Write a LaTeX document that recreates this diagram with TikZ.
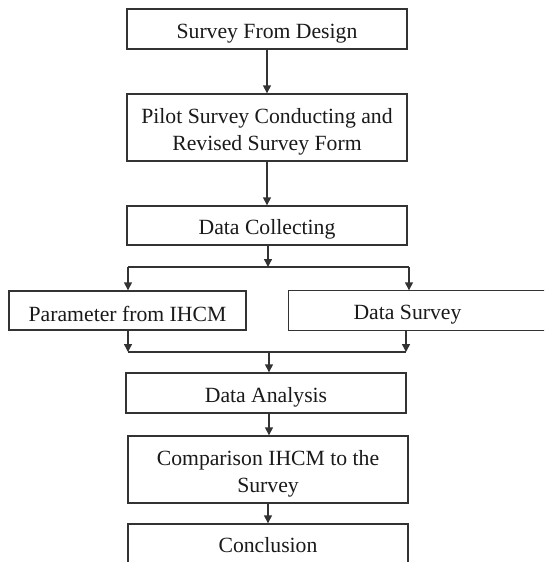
\documentclass[tikz,border=0pt]{standalone}
\usepackage{fontspec}
\setmainfont{Liberation Serif}
\usetikzlibrary{arrows.meta}
\definecolor{linec}{HTML}{333333}
\definecolor{textc}{HTML}{1A1A1A}
\newcommand{\topstrut}{\rule{0pt}{23pt}}
\tikzset{
  box/.style={draw=linec, line width=1.4pt, rectangle, inner sep=0pt, text=textc,
    font=\fontsize{21.7}{26.7}\selectfont, align=center, minimum width=280pt},
  conn/.style={draw=linec, line width=1.4pt},
  arr/.style={conn, -{Triangle[length=8pt,width=8pt]}}
}
\begin{document}
\begin{tikzpicture}[x=1pt,y=-1pt]
\useasboundingbox (0,0) rectangle (544,562);
\fill[white] (0,0) rectangle (544,562);
\clip (0,0) rectangle (544,562);
\node[box, minimum height=40pt] (b1) at (267,29) {\topstrut Survey From Design};
\node[box, minimum height=67pt] (b2) at (267,127.5) {\topstrut Pilot Survey Conducting and\\Revised Survey Form};
\node[box, minimum height=39pt] (b3) at (267,225.5) {\topstrut Data Collecting};
\node[box, minimum height=39pt, minimum width=237pt] (b4) at (127.5,310.5) {\topstrut Parameter from IHCM};
\node[box, draw=none, minimum height=39pt, minimum width=237pt] (b5) at (407.5,310.5) {\topstrut Data Survey};
\draw[conn] (b5.north west) -- ++(300,0) (b5.north west) -- (b5.south west) -- ++(300,0);
\node[box, minimum height=40pt] (b6) at (266,393) {\topstrut Data Analysis};
\node[box, minimum height=67pt] (b7) at (268,469.5) {\topstrut Comparison IHCM to the\\Survey};
\node[box, minimum height=42pt, text depth=0pt] (b8) at (268,545) {Conclusion};

\coordinate (s1) at (128,267);
\coordinate (s2) at (409,267);
\coordinate (j1) at (268,267);
\coordinate (m1) at (128,352);
\coordinate (m2) at (406,352);
\coordinate (j2) at (269,352);

\draw[arr] (b1) -- (b2);
\draw[arr] (b2) -- (b3);
\draw[arr] (b3.south -| j1) -- (j1);
\draw[conn] (s1) -- (s2);
\draw[arr] (s1) -- (s1 |- b4.north);
\draw[arr] (s2) -- (s2 |- b5.north);
\draw[arr] (m1 |- b4.south) -- (m1);
\draw[arr] (m2 |- b5.south) -- (m2);
\draw[conn] (m1) -- (m2);
\draw[arr] (j2) -- (j2 |- b6.north);
\draw[arr] (b6.south -| j2) -- (j2 |- b7.north);
\draw[arr] (b7) -- (b8);
\end{tikzpicture}
\end{document}
